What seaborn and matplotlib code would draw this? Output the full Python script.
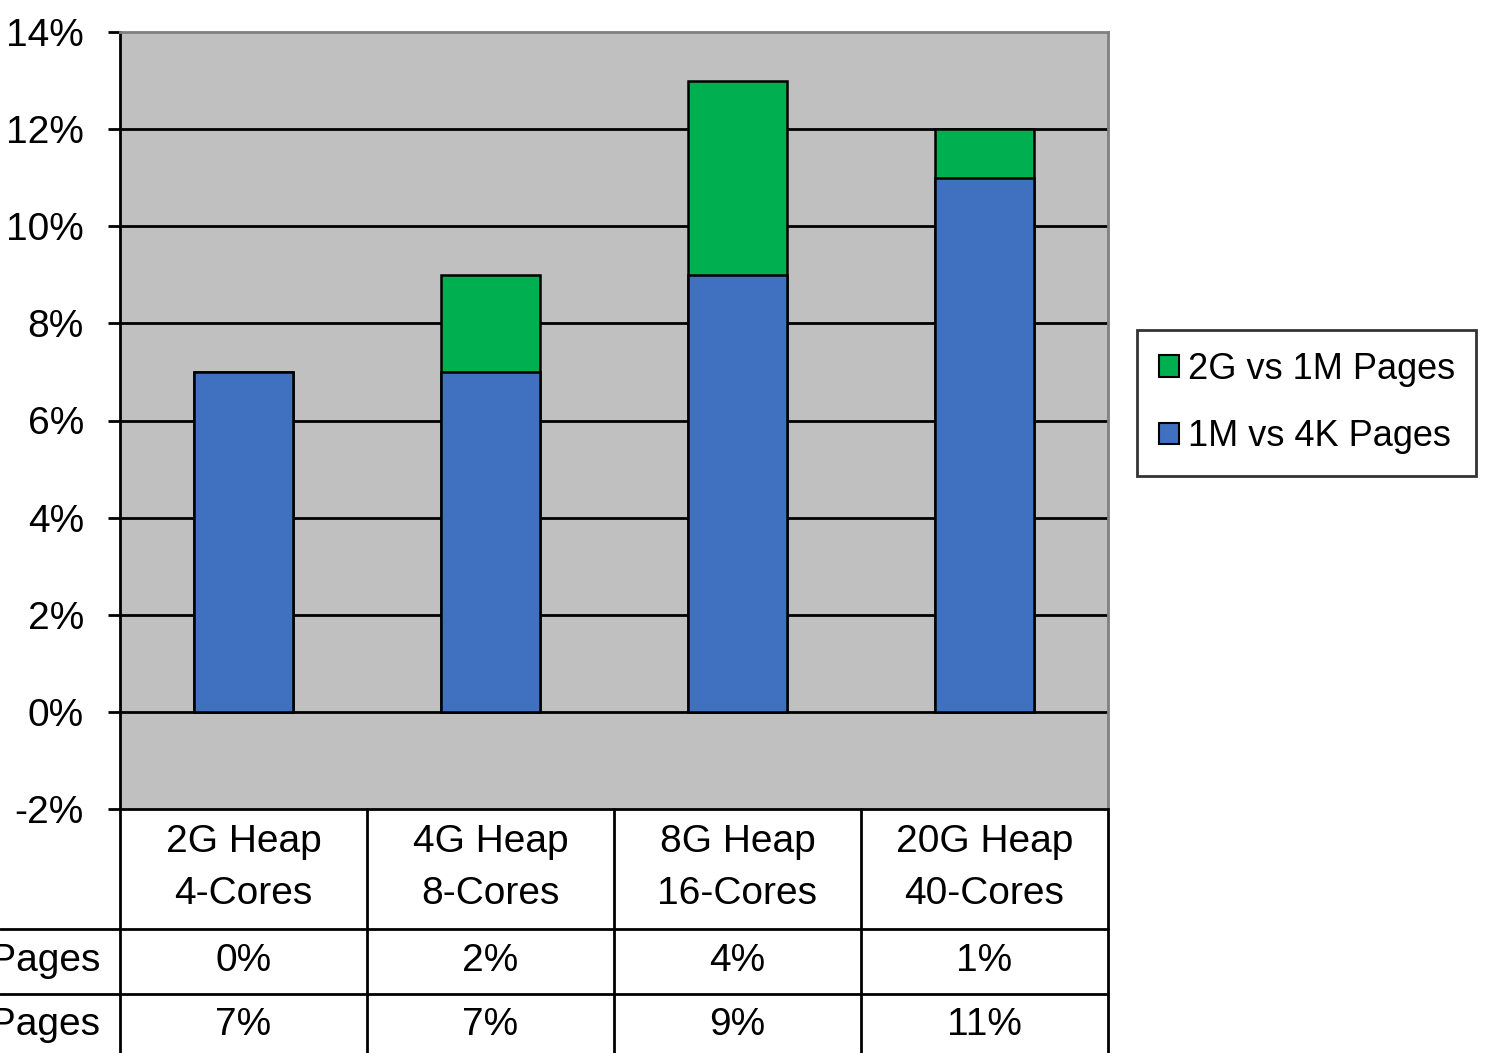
import matplotlib
matplotlib.use("Agg")
import matplotlib.pyplot as plt
import matplotlib.transforms as mtransforms
from matplotlib.patches import Patch
import pandas as pd
import seaborn as sns

# Data
configs = ["2G Heap\n4-Cores", "4G Heap\n8-Cores", "8G Heap\n16-Cores", "20G Heap\n40-Cores"]
series_names = ["2G vs 1M Pages", "1M vs 4K Pages"]
gain_2g_vs_1m = [0, 2, 4, 1]
gain_1m_vs_4k = [7, 7, 9, 11]
y_ticks = [-2, 0, 2, 4, 6, 8, 10, 12, 14]

BLUE = "#4070C0"
GREEN = "#00B050"
PANEL = "#C0C0C0"

df = pd.DataFrame({
    "config": configs,
    "base": gain_1m_vs_4k,
    "extra": gain_2g_vs_1m,
})
df["total"] = df["base"] + df["extra"]

sns.set_theme(style="white")
plt.rcParams["font.family"] = ["Liberation Sans", "DejaVu Sans"]
plt.rcParams["text.color"] = "black"
plt.rcParams["ytick.color"] = "black"
plt.rcParams["ytick.labelcolor"] = "black"
FS = 28
LEG_FS = 26

W, H = 1489, 1053
fig = plt.figure(figsize=(W / 100, H / 100), dpi=100)


def fx(px):
    return px / W


def fy(py):
    return 1 - py / H


ax = fig.add_axes([fx(120), fy(809), fx(1108) - fx(120), fy(32) - fy(809)])
ax.set_facecolor(PANEL)

# horizontal gridlines
for v in y_ticks[1:-1]:
    ax.axhline(v, color="black", linewidth=2, zorder=0.5)

# stacked bars: total first, lower segment drawn over it
sns.barplot(data=df, x="config", y="total", color=GREEN, saturation=1, width=0.4,
            edgecolor="black", linewidth=1.8, ax=ax, zorder=2)
sns.barplot(data=df, x="config", y="base", color=BLUE, saturation=1, width=0.4,
            edgecolor="black", linewidth=1.8, ax=ax, zorder=3)

ax.set_xlim(-0.5, len(configs) - 0.5)
ax.set_ylim(-2, 14)
ax.set_yticks(y_ticks)
ax.set_yticklabels([f"{v}%" for v in y_ticks], fontsize=FS, color="black")
ax.set_xticks([])
ax.set_xlabel("")
ax.set_ylabel("")
ax.tick_params(axis="y", which="major", direction="out", length=9, width=2,
               color="black", pad=17, left=True)

for side in ["left", "bottom"]:
    ax.spines[side].set_color("black")
    ax.spines[side].set_linewidth(2)
for side in ["top", "right"]:
    ax.spines[side].set_color("#808080")
    ax.spines[side].set_linewidth(2)

# data table under the axis
blend = mtransforms.blended_transform_factory(ax.transData, fig.transFigure)
bottom = fy(1060)
line_kw = dict(color="black", linewidth=2, clip_on=False, transform=blend)
for b in [i - 0.5 for i in range(len(configs) + 1)]:
    ax.plot([b, b], [fy(809), bottom], **line_kw)

fig_line_kw = dict(color="black", linewidth=2, transform=fig.transFigure)
for py in [929, 994]:
    fig.add_artist(plt.Line2D([0, fx(1108)], [fy(py), fy(py)], **fig_line_kw))

for i, label in enumerate(configs):
    ax.text(i, fy(868), label, transform=blend, ha="center", va="center",
            fontsize=FS, linespacing=1.6, clip_on=False, color="black")
    ax.text(i, fy(961), f"{gain_2g_vs_1m[i]}%", transform=blend, ha="center",
            va="center", fontsize=FS, clip_on=False, color="black")
    ax.text(i, fy(1025), f"{gain_1m_vs_4k[i]}%", transform=blend, ha="center",
            va="center", fontsize=FS, clip_on=False, color="black")

fig.text(fx(100), fy(961), series_names[0], ha="right", va="center", fontsize=FS,
         color="black")
fig.text(fx(100), fy(1025), series_names[1], ha="right", va="center", fontsize=FS,
         color="black")

# legend
handles = [Patch(facecolor=GREEN, edgecolor="black", linewidth=1.5),
           Patch(facecolor=BLUE, edgecolor="black", linewidth=1.5)]
leg = fig.legend(handles, series_names, loc="upper left",
                 bbox_to_anchor=(fx(1137), fy(330)), frameon=True, fancybox=False,
                 fontsize=LEG_FS, handlelength=0.55, handleheight=0.55,
                 handletextpad=0.25, borderpad=0.6, labelspacing=0.9, borderaxespad=0)
leg.get_frame().set_edgecolor("black")
leg.get_frame().set_linewidth(2)

fig.savefig("out.png", dpi=100, facecolor="white")
